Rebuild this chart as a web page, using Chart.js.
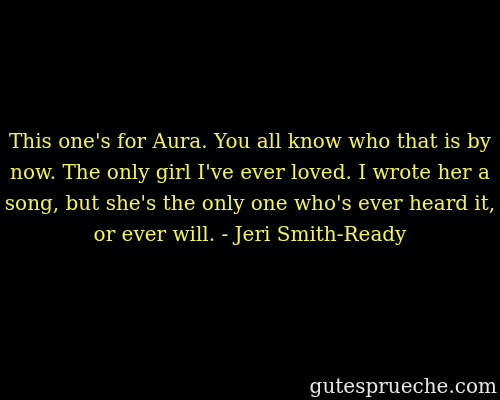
<!DOCTYPE html>
<html>
<head>
<meta charset="utf-8">
<script src="https://cdn.jsdelivr.net/npm/chart.js@4/dist/chart.umd.min.js"></script>
<style>
  html, body { margin: 0; padding: 0; background: #000; }
  #wrap { width: 500px; height: 400px; }
</style>
</head>
<body>
<div id="wrap"><canvas id="quote"></canvas></div>
<script>
// quote text, one entry per printed line
const quoteLines = [
    "This one's for Aura. You all know who that is by",
    "now. The only girl I've ever loved. I wrote her a",
    "song, but she's the only one who's ever heard it,",
    "or ever will. - Jeri Smith-Ready"
]
const siteLabel = "gutesprueche.com"

const bgPlugin = {
    id: "bg",
    beforeDraw: chart => {
        const { ctx, width, height } = chart
        ctx.save()
        ctx.fillStyle = "#000000"
        ctx.fillRect(0, 0, width, height)
        ctx.restore()
    }
}

new Chart(document.getElementById("quote"), {
    type: "bar",
    data: { labels: [], datasets: [] },
    options: {
        responsive: true,
        maintainAspectRatio: false,
        animation: false,
        layout: { padding: { left: 3, right: 3, top: 0, bottom: 0 } },
        scales: { x: { display: false }, y: { display: false } },
        plugins: {
            legend: { display: false },
            tooltip: { enabled: false },
            title: {
                display: true,
                text: quoteLines,
                color: "#f2f25a",
                font: { family: "DejaVu Serif", size: 20, weight: "normal", lineHeight: 1.55 },
                padding: { top: 127, bottom: 0 }
            },
            subtitle: {
                display: true,
                position: "bottom",
                align: "end",
                text: siteLabel,
                color: "#e6e6e6",
                font: { family: "DejaVu Serif", size: 20, weight: "normal", lineHeight: 1.2 },
                padding: { top: 0, bottom: 0 }
            }
        }
    },
    plugins: [bgPlugin]
})
</script>
</body>
</html>
